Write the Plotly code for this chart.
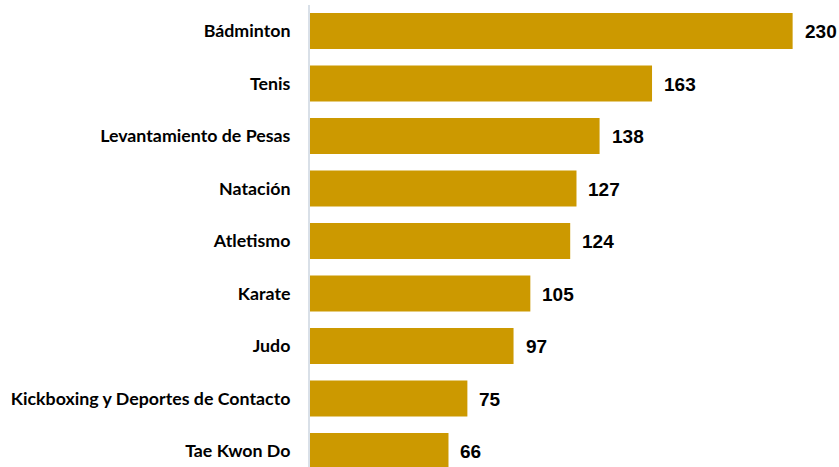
import plotly.graph_objects as go

categories = ["Bádminton", "Tenis", "Levantamiento de Pesas", "Natación", "Atletismo",
              "Karate", "Judo", "Kickboxing y Deportes de Contacto", "Tae Kwon Do"]
values = [230, 163, 138, 127, 124, 105, 97, 75, 66]

fig = go.Figure(go.Bar(
    x=values, y=categories, orientation="h",
    marker=dict(color="#CC9900", line=dict(width=0)),
    width=0.686,
    hoverinfo="skip",
))

for c, v in zip(categories, values):
    fig.add_annotation(x=v, y=c, text=f"<b>{v}</b>", showarrow=False,
                       xanchor="left", xshift=10, yshift=-1,
                       font=dict(family="Liberation Sans", size=19, color="#000000"))

fig.update_layout(
    width=839, height=467,
    margin=dict(l=310, r=0, t=5, b=0),
    paper_bgcolor="white", plot_bgcolor="white",
    showlegend=False,
    xaxis=dict(range=[0, 252.1], visible=False, showgrid=False, zeroline=False),
    yaxis=dict(categoryorder="array", categoryarray=categories,
               range=[8.305, -0.495], showgrid=False, zeroline=False,
               showline=True, linecolor="#D9E0E8", linewidth=2,
               ticks="", ticklabelstandoff=14,
               tickfont=dict(family="Lato", size=17.8, color="#000000", weight="bold")),
)

fig.write_html("out.html", config={"displayModeBar": False},
               post_script="document.body.style.margin='0';document.body.style.overflow='hidden';")
